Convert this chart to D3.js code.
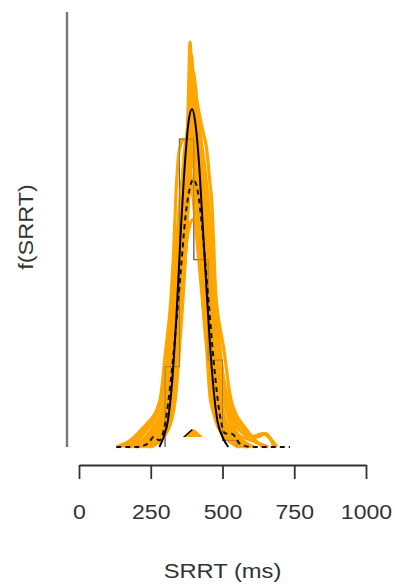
<!DOCTYPE html>
<html>
<head>
<meta charset="utf-8">
<script src="https://cdn.jsdelivr.net/npm/d3@7"></script>
<style>
  html, body { margin: 0; padding: 0; background: #fff; }
  svg { display: block; }
  text { font-family: "Liberation Sans", Arial, Helvetica, sans-serif; fill: #333; }
</style>
</head>
<body>
<svg id="chart" width="395" height="587"></svg>
<script>
// ---------------- data ----------------
const xTicks = [0, 250, 500, 750, 1000];
const xLabel = "SRRT (ms)";
const yLabel = "f(SRRT)";

// histogram of observed SRRT (50 ms bins, density), drawn as a step outline
const binStarts = [300, 350, 400, 450, 500];
const binWidth = 50;
const binDensity = [0.0024, 0.0092, 0.0056, 0.0026, 0.0002];

// fitted density (solid black) [ms, density]
const fitDensity = [[280,0],[295,0.0003],[310,0.0008],[325,0.0020],[340,0.0040],[355,0.0065],[370,0.0086],[383,0.0098],[394,0.0101],[405,0.0097],[418,0.0085],[432,0.0065],[448,0.0042],[463,0.0023],[480,0.0009],[500,0.0003],[520,0]];

// kernel density of the data (dashed black)
const dataDensity = [[130,0],[200,0],[240,0.0001],[260,0.0003],[280,0.0002],[300,0.0007],[320,0.0020],[340,0.0038],[355,0.0053],[370,0.0068],[385,0.0077],[398,0.0080],[410,0.0078],[425,0.0069],[440,0.0055],[455,0.0040],[470,0.0025],[490,0.0010],[510,0.0004],[530,0.0004],[545,0.0003],[560,0.0001],[600,0],[735,0]];

// posterior predictive densities (orange)
const predA = [[200,0],[290,0.0005],[325,0.0014],[342,0.0029],[355,0.0044],[363,0.0059],[370,0.0074],[376,0.0089],[381,0.0104],[387,0.0121],[395,0.0104],[402,0.0089],[410,0.0074],[420,0.0059],[432,0.0044],[448,0.0029],[462,0.0014],[490,0.0005],[560,0]];
const predB = [[220,0],[300,0.0005],[334,0.0014],[347,0.0029],[360,0.0044],[370,0.0059],[378,0.0074],[384,0.0089],[390,0.0104],[396,0.0113],[403,0.0104],[410,0.0089],[416,0.0074],[424,0.0059],[431,0.0044],[445,0.0029],[458,0.0014],[498,0.0005],[560,0]];
const predC = [[170,0],[260,0.0005],[305,0.0014],[328,0.0029],[342,0.0044],[354,0.0059],[364,0.0074],[375,0.0089],[392,0.0106],[407,0.0089],[418,0.0074],[430,0.0059],[444,0.0044],[460,0.0029],[478,0.0014],[510,0.0005],[580,0]];
const predD = [[230,0],[290,0.0005],[318,0.0014],[338,0.0029],[350,0.0044],[362,0.0059],[372,0.0074],[385,0.0089],[400,0.0096],[418,0.0089],[440,0.0074],[455,0.0059],[468,0.0044],[490,0.0029],[515,0.0014],[560,0.0005],[600,0.0003],[640,0.0004],[690,0]];
const predE = [[160,0],[225,0.0005],[282,0.0014],[302,0.0029],[320,0.0044],[330,0.0059],[337,0.0074],[350,0.0089],[365,0.0092],[380,0.0089],[398,0.0074],[414,0.0059],[430,0.0044],[450,0.0029],[470,0.0014],[500,0.0005],[560,0]];
const predF = [[240,0],[305,0.0005],[330,0.0014],[345,0.0029],[360,0.0044],[372,0.0059],[382,0.0074],[395,0.0089],[408,0.0099],[430,0.0089],[450,0.0074],[465,0.0059],[478,0.0044],[505,0.0029],[530,0.0014],[585,0.0005],[640,0]];
const predG = [[250,0],[310,0.0005],[335,0.0014],[350,0.0029],[362,0.0044],[372,0.0059],[380,0.0074],[387,0.0089],[393,0.0104],[398,0.0112],[410,0.0104],[430,0.0095],[445,0.0089],[455,0.0080],[462,0.0074],[470,0.0059],[476,0.0044],[492,0.0029],[510,0.0014],[545,0.0005],[600,0]];
const predH = [[180,0],[250,0.0005],[300,0.0014],[325,0.0029],[342,0.0044],[356,0.0059],[370,0.0074],[395,0.0084],[420,0.0074],[440,0.0059],[455,0.0044],[473,0.0029],[495,0.0014],[530,0.0005],[600,0.0002],[660,0]];
const predI = [[200,0],[280,0.0005],[315,0.0014],[335,0.0029],[350,0.0044],[362,0.0059],[371,0.0074],[379,0.0089],[385,0.0104],[392,0.0117],[400,0.0104],[408,0.0089],[418,0.0074],[428,0.0059],[440,0.0044],[455,0.0029],[472,0.0014],[505,0.0005],[570,0]];
const predJ = [[130,0],[180,0.0002],[230,0.0005],[290,0.0014],[315,0.0029],[335,0.0044],[348,0.0059],[360,0.0074],[372,0.0089],[386,0.0101],[398,0.0089],[410,0.0074],[422,0.0059],[436,0.0044],[453,0.0029],[470,0.0014],[500,0.0005],[555,0]];
const predK = [[240,0],[300,0.0005],[328,0.0014],[345,0.0029],[358,0.0044],[370,0.0059],[380,0.0074],[390,0.0089],[404,0.0108],[418,0.0089],[428,0.0074],[440,0.0059],[452,0.0044],[470,0.0029],[492,0.0014],[528,0.0005],[590,0]];
const predL = [[170,0],[235,0.0005],[288,0.0014],[308,0.0029],[325,0.0044],[338,0.0059],[352,0.0074],[375,0.0089],[398,0.0094],[420,0.0089],[438,0.0074],[452,0.0059],[466,0.0044],[488,0.0029],[520,0.0014],[575,0.0005],[620,0.0003],[650,0.0004],[680,0]];
const predM = [[190,0],[260,0.0005],[310,0.0014],[333,0.0029],[348,0.0044],[360,0.0059],[372,0.0074],[392,0.0088],[412,0.0074],[428,0.0059],[442,0.0044],[460,0.0029],[482,0.0014],[515,0.0005],[580,0]];
const predN = [[210,0],[275,0.0005],[315,0.0014],[338,0.0029],[352,0.0044],[366,0.0059],[380,0.0074],[400,0.0079],[420,0.0074],[436,0.0059],[450,0.0044],[466,0.0029],[488,0.0014],[520,0.0005],[590,0]];
const predO = [[150,0],[215,0.0005],[285,0.0014],[312,0.0029],[330,0.0044],[344,0.0059],[356,0.0074],[368,0.0089],[385,0.0095],[402,0.0089],[416,0.0074],[430,0.0059],[446,0.0044],[465,0.0029],[486,0.0014],[520,0.0005],[580,0]];
const predP = [[250,0],[305,0.0005],[330,0.0014],[346,0.0029],[356,0.0044],[366,0.0059],[376,0.0074],[386,0.0089],[397,0.0102],[412,0.0089],[428,0.0074],[445,0.0059],[460,0.0044],[478,0.0029],[505,0.0014],[540,0.0005],[610,0]];
const predQ = [[200,0],[270,0.0005],[315,0.0014],[340,0.0029],[357,0.0044],[372,0.0059],[385,0.0066],[398,0.0068],[412,0.0066],[428,0.0059],[445,0.0044],[462,0.0029],[485,0.0014],[515,0.0005],[580,0]];
const predCurves = [predA, predB, predC, predD, predE, predF, predG, predH, predI, predJ, predK, predL, predM, predN, predO, predP, predQ];

// means (triangles)
const observedMean = 393;
const predictedMean = 401;

// ---------------- drawing ----------------
const svg = d3.select("#chart");
const x = d3.scaleLinear().domain([0, 1000]).range([79, 366]);
const y = d3.scaleLinear().domain([0, 0.013]).range([447, 12]);

const line = d3.line()
  .x(d => x(d[0]))
  .y(d => y(d[1]))
  .curve(d3.curveMonotoneX);

// y axis line (no ticks)
svg.append("line")
  .attr("x1", 67).attr("x2", 67)
  .attr("y1", y(0.013)).attr("y2", y(0))
  .attr("stroke", "#777").attr("stroke-width", 2.4);

// histogram step outline
const histPoints = [[binStarts[0], 0]];
binStarts.forEach((b, i) => { histPoints.push([b, binDensity[i]]); });
histPoints.push([binStarts[binStarts.length - 1] + binWidth, binDensity[binDensity.length - 1]]);
histPoints.push([binStarts[binStarts.length - 1] + binWidth, 0]);
const stepLine = d3.line().x(d => x(d[0])).y(d => y(d[1])).curve(d3.curveStepAfter);
svg.append("path")
  .datum(histPoints)
  .attr("d", stepLine)
  .attr("fill", "none")
  .attr("stroke", "#666")
  .attr("stroke-width", 1.2);

// orange predictive densities
svg.append("g").selectAll("path")
  .data(predCurves).join("path")
  .attr("d", line)
  .attr("fill", "none")
  .attr("stroke", "#FFA500")
  .attr("stroke-width", 3.2)
  .attr("stroke-linejoin", "round");

// histogram outline again, faintly on top (edges visible over orange)
svg.append("path")
  .datum(histPoints)
  .attr("d", stepLine)
  .attr("fill", "none")
  .attr("stroke", "#666")
  .attr("stroke-opacity", 0.6)
  .attr("stroke-width", 1);

// dashed data density
svg.append("path")
  .datum(dataDensity)
  .attr("d", line)
  .attr("fill", "none")
  .attr("stroke", "#111")
  .attr("stroke-width", 2)
  .attr("stroke-dasharray", "5,4");

// solid fitted density
svg.append("path")
  .datum(fitDensity)
  .attr("d", line)
  .attr("fill", "none")
  .attr("stroke", "#000")
  .attr("stroke-width", 2);

// triangles
function tri(cx, cy) {
  return `M${cx},${cy - 7} L${cx + 9},${cy + 1} L${cx - 9},${cy + 1} Z`;
}
svg.append("path").attr("d", tri(x(observedMean), 436)).attr("fill", "#000");
svg.append("path").attr("d", tri(x(predictedMean), 436)).attr("fill", "#FFA500");

// x axis
const xAxis = d3.axisBottom(x)
  .tickValues(xTicks)
  .tickFormat(d3.format("d"))
  .tickSize(14)
  .tickSizeOuter(0)
  .tickPadding(25);
const gx = svg.append("g").attr("transform", "translate(0,465)").call(xAxis);
gx.select(".domain").attr("stroke", "#333").attr("stroke-width", 1.8);
gx.selectAll(".tick line").attr("stroke", "#333").attr("stroke-width", 1.8);
gx.selectAll(".tick text")
  .style("font-size", "21px")
  .style("font-family", "'Liberation Sans', Arial, sans-serif")
  .attr("fill", "#333")
  .attr("transform", "scale(1.1,1)");

// axis titles
svg.append("text")
  .attr("transform", "translate(222.5,578) scale(1.13,1)")
  .attr("text-anchor", "middle")
  .style("font-size", "21px")
  .text(xLabel);

svg.append("text")
  .attr("transform", "translate(33,227) rotate(-90) scale(1.12,1)")
  .attr("text-anchor", "middle")
  .style("font-size", "21px")
  .text(yLabel);
</script>
</body>
</html>
